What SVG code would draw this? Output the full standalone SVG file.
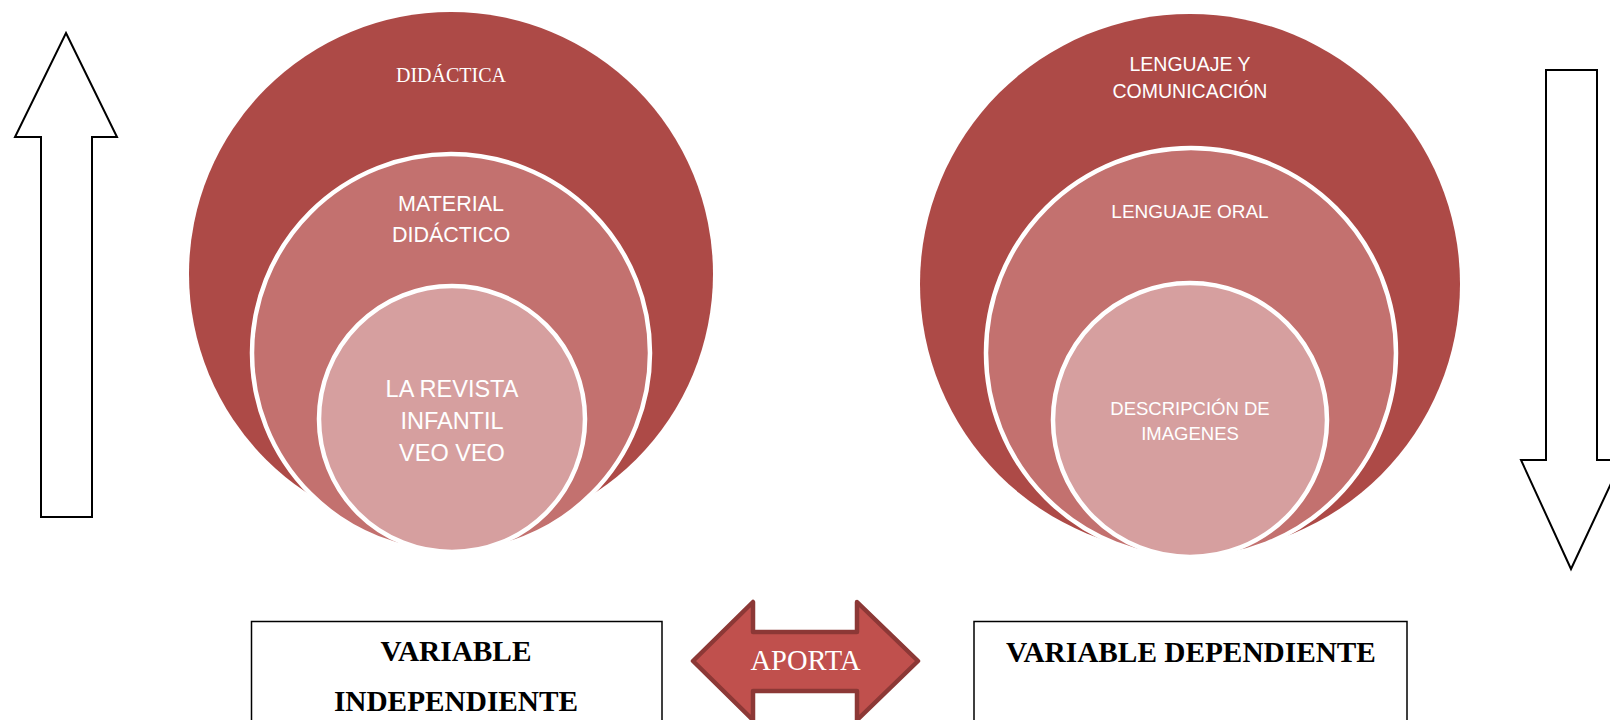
<svg xmlns="http://www.w3.org/2000/svg" width="1610" height="720" viewBox="0 0 1610 720">
<style>
.c1{fill:#AD4A47;}
.c2{fill:#C3716F;stroke:#fff;stroke-width:4.5;}
.c3{fill:#D69F9F;stroke:#fff;stroke-width:4.5;}
.sans{font-family:"Liberation Sans",Arial,sans-serif;fill:#fff;text-anchor:middle;}
.serif{font-family:"Liberation Serif","Times New Roman",serif;text-anchor:middle;}
.outline{fill:#fff;stroke:#000;stroke-width:2;stroke-linejoin:miter;}
.box{fill:#fff;stroke:#000;stroke-width:1.5;}
.bold{font-family:"Liberation Serif","Times New Roman",serif;font-weight:bold;font-size:29.3px;fill:#000;text-anchor:middle;}
</style>
<g id="connectors">
<polygon id="arrow-up" class="outline" points="66,33 117,137 92,137 92,517 41,517 41,137 15,137"/>
<polygon id="arrow-down" class="outline" points="1546,70 1597,70 1597,460 1622,460 1571,569 1521,460 1546,460"/>
</g>
<g id="aporta">
<polygon points="693,661 753,602 753,632 857,632 857,602 918,661 857,720 857,691 753,691 753,720" fill="#C0504D" stroke="#8C3836" stroke-width="4.5" stroke-linejoin="round"/>
<text class="serif" x="805.5" y="670" font-size="28.5" fill="#fff">APORTA</text>
</g>
<g id="left-circles">
<g id="didactica">
<circle class="c1" cx="451" cy="274" r="262"/>
<text class="serif" x="451" y="82" font-size="20" fill="#fff">DIDÁCTICA</text>
</g>
<g id="material-didactico">
<circle class="c2" cx="451" cy="353" r="199"/>
<text class="sans" font-size="21.5"><tspan x="451" y="211">MATERIAL</tspan><tspan x="451" y="242">DIDÁCTICO</tspan></text>
</g>
<g id="revista">
<circle class="c3" cx="452" cy="419" r="133"/>
<text class="sans" font-size="23.5"><tspan x="452" y="397">LA REVISTA</tspan><tspan x="452" y="429">INFANTIL</tspan><tspan x="452" y="461">VEO VEO</tspan></text>
</g>
</g>
<g id="right-circles">
<g id="lenguaje-comunicacion">
<circle class="c1" cx="1190" cy="284" r="270"/>
<text class="sans" font-size="19.5"><tspan x="1190" y="71">LENGUAJE Y</tspan><tspan x="1190" y="98">COMUNICACIÓN</tspan></text>
</g>
<g id="lenguaje-oral">
<circle class="c2" cx="1191" cy="353" r="205"/>
<text class="sans" font-size="19" x="1190" y="217.5">LENGUAJE ORAL</text>
</g>
<g id="descripcion">
<circle class="c3" cx="1190" cy="420" r="137"/>
<text class="sans" font-size="18.5"><tspan x="1190" y="414.5">DESCRIPCIÓN DE</tspan><tspan x="1190" y="440">IMAGENES</tspan></text>
</g>
</g>
<g id="var-independiente">
<rect class="box" x="251.5" y="621.5" width="410.5" height="110"/>
<text class="bold"><tspan x="456" y="661">VARIABLE</tspan><tspan x="456" y="711">INDEPENDIENTE</tspan></text>
</g>
<g id="var-dependiente">
<rect class="box" x="974" y="621.5" width="433" height="110"/>
<text class="bold" x="1191" y="662">VARIABLE DEPENDIENTE</text>
</g>
</svg>
